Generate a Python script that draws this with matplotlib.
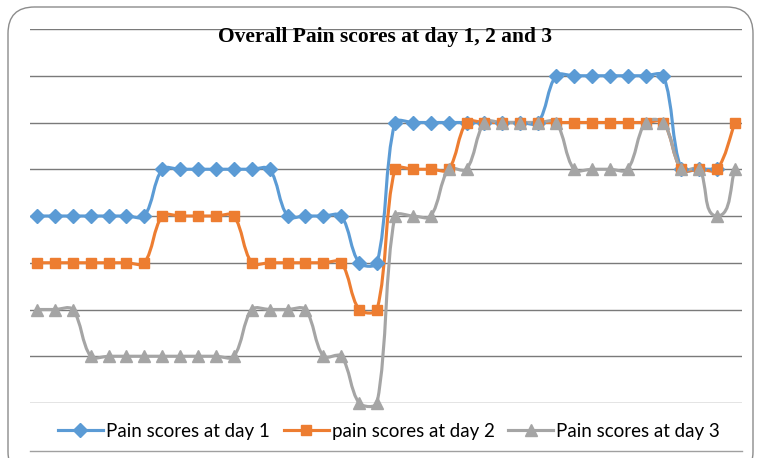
import matplotlib
matplotlib.use("Agg")
import matplotlib.pyplot as plt
import numpy as np
from matplotlib.path import Path
from matplotlib.patches import PathPatch, FancyBboxPatch
from matplotlib.lines import Line2D

nan = np.nan
day1 = [4, 4, 4, 4, 4, 4, 4, 5, 5, 5, 5, 5, 5, 5, 4, 4, 4, 4, 3, 3,
        6, 6, 6, 6, 6, 6, 6, 6, 6, 7, 7, 7, 7, 7, 7, 7, 5, 5, 5, nan]
day2 = [3, 3, 3, 3, 3, 3, 3, 4, 4, 4, 4, 4, 3, 3, 3, 3, 3, 3, 2, 2,
        5, 5, 5, 5, 6, 6, 6, 6, 6, 6, 6, 6, 6, 6, 6, 6, 5, 5, 5, 6]
day3 = [2, 2, 2, 1, 1, 1, 1, 1, 1, 1, 1, 1, 2, 2, 2, 2, 1, 1, 0, 0,
        4, 4, 4, 5, 5, 6, 6, 6, 6, 6, 5, 5, 5, 5, 6, 6, 5, 5, 4, 5]
labels = ["Pain scores at day 1", "pain scores at day 2", "Pain scores at day 3"]
colors = ["#5B9BD5", "#ED7D31", "#A5A5A5"]
markers = ["D", "s", "^"]
msizes = [7, 7, 8.5]

W, H = 757, 458
fig = plt.figure(figsize=(W / 100, H / 100), dpi=100)

# chart border (rounded)
border = FancyBboxPatch((8 / W, -20 / H), 745 / W, (458 - 7 + 20) / H,
                        boxstyle="round,pad=0,rounding_size=0.035",
                        transform=fig.transFigure, fill=False,
                        edgecolor="#8c8c8c", lw=1.0, mutation_aspect=W / H)
fig.patches.append(border)
fig.add_artist(Line2D([30 / W, 742 / W], [1 - 451 / H, 1 - 451 / H],
                      color="#a0a0a0", lw=1.0, transform=fig.transFigure))

ax = fig.add_axes([30 / W, (458 - 403) / H, 712 / W, 374 / H])
ax.set_xlim(-0.39, 39.39)
ax.set_ylim(0, 8)
for s in ax.spines.values():
    s.set_visible(False)
ax.set_xticks([])
ax.set_yticks(range(0, 9))
ax.tick_params(left=False, labelleft=False)
ax.yaxis.grid(True, color="#7a7a7a", lw=1.0)
ax.set_axisbelow(True)

# rough pixel size of one unit, so the smoothing works in screen space
sx, sy = 17.9, 46.75


def smooth_path(x, y, k=0.3):
    # excel-like smoothed line: cubic bezier through the data points
    pts = np.column_stack([x * sx, y * sy])
    n = len(pts)
    tang = []
    for i in range(n):
        d = pts[min(i + 1, n - 1)] - pts[max(i - 1, 0)]
        tang.append(d / (np.hypot(*d) or 1.0))
    verts = [pts[0]]
    codes = [Path.MOVETO]
    for i in range(n - 1):
        seg = np.hypot(*(pts[i + 1] - pts[i]))
        c1 = pts[i] + tang[i] * seg * k
        c2 = pts[i + 1] - tang[i + 1] * seg * k
        verts += [c1, c2, pts[i + 1]]
        codes += [Path.CURVE4] * 3
    verts = np.array(verts) / [sx, sy]
    return Path(verts, codes)


handles = []
for vals, lab, col, mk, ms in zip([day1, day2, day3], labels, colors, markers, msizes):
    y = np.array(vals, dtype=float)
    x = np.arange(len(y))
    ok = ~np.isnan(y)
    ax.add_patch(PathPatch(smooth_path(x[ok], y[ok]), fill=False,
                           edgecolor=col, lw=2.25, capstyle="round",
                           joinstyle="round", clip_on=False))
    ax.plot(x[ok], y[ok], ls="none", marker=mk, ms=ms, color=col, clip_on=False)
    handles.append(Line2D([], [], color=col, lw=2.25, marker=mk, ms=ms))

fig.text(385 / W, 1 - 37 / H, "Overall Pain scores at day 1, 2 and 3",
         ha="center", va="center", fontsize=15.5, fontweight="bold",
         family="Liberation Serif")

fig.legend(handles, labels, loc="center", bbox_to_anchor=(389 / W, 1 - 431 / H),
           ncol=3, frameon=False, prop={"family": "Lato", "size": 13.5},
           handlelength=2.4, handletextpad=0.15, columnspacing=0.75,
           borderaxespad=0)

fig.savefig("out.png", dpi=100)
